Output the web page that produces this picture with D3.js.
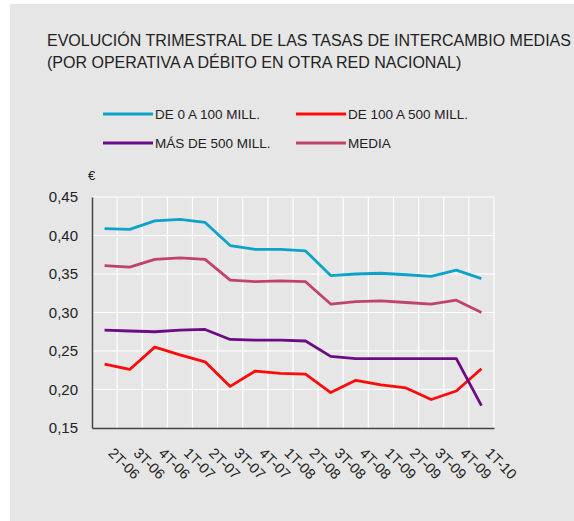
<!DOCTYPE html>
<html>
<head>
<meta charset="utf-8">
<script src="https://cdn.jsdelivr.net/npm/d3@7"></script>
<style>
  body { margin: 0; background: #fff; }
  text { font-family: "Liberation Sans", Arial, sans-serif; fill: #222; }
</style>
</head>
<body>
<div id="chart"></div>
<script>
// quarters on the x axis
var quarters = ["2T-06", "3T-06", "4T-06", "1T-07", "2T-07", "3T-07", "4T-07", "1T-08",
    "2T-08", "3T-08", "4T-08", "1T-09", "2T-09", "3T-09", "4T-09", "1T-10"];

// series values (euros)
var de0a100 = [0.409, 0.408, 0.419, 0.421, 0.417, 0.387, 0.382, 0.382,
    0.380, 0.348, 0.350, 0.351, 0.349, 0.347, 0.355, 0.344];
var de100a500 = [0.233, 0.226, 0.255, 0.245, 0.236, 0.204, 0.224, 0.221,
    0.220, 0.196, 0.212, 0.206, 0.202, 0.187, 0.198, 0.227];
var mas500 = [0.277, 0.276, 0.275, 0.277, 0.278, 0.265, 0.264, 0.264,
    0.263, 0.243, 0.240, 0.240, 0.240, 0.240, 0.240, 0.179];
var media = [0.361, 0.359, 0.369, 0.371, 0.369, 0.342, 0.340, 0.341,
    0.340, 0.311, 0.314, 0.315, 0.313, 0.311, 0.316, 0.300];

var yTicks = [0.15, 0.20, 0.25, 0.30, 0.35, 0.40, 0.45];

var series = [
    { name: "DE 0 A 100 MILL.", values: de0a100, color: "#0ba3c9" },
    { name: "DE 100 A 500 MILL.", values: de100a500, color: "#ff0a0a" },
    { name: "MÁS DE 500 MILL.", values: mas500, color: "#6c0b86" },
    { name: "MEDIA", values: media, color: "#c0436b" }
];

var width = 574, height = 521;
var plot = { left: 92, right: 494, top: 197, bottom: 428 };

var svg = d3.select("#chart")
    .append("svg")
    .attr("width", width)
    .attr("height", height);

// gray panel
svg.append("rect")
    .attr("x", 10).attr("y", 4)
    .attr("width", width - 10).attr("height", height - 4)
    .attr("fill", "#e6e6e6");

// title
var title = svg.append("text")
    .attr("x", 47)
    .attr("y", 46)
    .style("font-size", "16px");
title.append("tspan").attr("x", 47).text("EVOLUCIÓN TRIMESTRAL DE LAS TASAS DE INTERCAMBIO MEDIAS");
title.append("tspan").attr("x", 47).attr("dy", 22).text("(POR OPERATIVA A DÉBITO EN OTRA RED NACIONAL)");

// legend
var legend = svg.append("g");
series.forEach(function (s, i) {
    var lx = i % 2 === 0 ? 103 : 296;
    var ly = i < 2 ? 114 : 143;
    legend.append("line")
        .attr("x1", lx).attr("x2", lx + 50)
        .attr("y1", ly).attr("y2", ly)
        .attr("stroke", s.color)
        .attr("stroke-width", 3);
    legend.append("text")
        .attr("x", lx + 52)
        .attr("y", ly)
        .attr("dy", "0.35em")
        .style("font-size", "13.5px")
        .text(s.name);
});

// scales
var x = d3.scaleBand()
    .domain(quarters)
    .range([plot.left, plot.right]);

var y = d3.scaleLinear()
    .domain([0.15, 0.45])
    .range([plot.bottom, plot.top]);

// grid
var grid = svg.append("g");
grid.selectAll(".hg")
    .data(yTicks.slice(1))
    .enter()
    .append("line")
    .attr("x1", plot.left).attr("x2", plot.right)
    .attr("y1", function (d) { return y(d); })
    .attr("y2", function (d) { return y(d); })
    .attr("stroke", "#fff")
    .attr("stroke-width", 1.2);
grid.selectAll(".vg")
    .data(quarters)
    .enter()
    .append("line")
    .attr("x1", function (d) { return x(d) + x.bandwidth(); })
    .attr("x2", function (d) { return x(d) + x.bandwidth(); })
    .attr("y1", plot.top).attr("y2", plot.bottom)
    .attr("stroke", "#fff")
    .attr("stroke-width", 1.2);

// y axis
var yAxis = svg.append("g")
    .attr("transform", "translate(" + plot.left + ",0)")
    .call(d3.axisLeft(y)
        .tickValues(yTicks)
        .tickSize(0)
        .tickPadding(14)
        .tickFormat(function (d) { return d3.format(".2f")(d).replace(".", ","); }));
yAxis.select(".domain").attr("stroke", "#444").attr("stroke-width", 1.5);
yAxis.selectAll("text")
    .style("font-size", "15px")
    .style("font-family", "Liberation Sans, Arial, sans-serif")
    .attr("fill", "#222");

// x axis
var xAxis = svg.append("g")
    .attr("transform", "translate(0," + plot.bottom + ")")
    .call(d3.axisBottom(x).tickSize(0).tickPadding(0));
xAxis.select(".domain").attr("stroke", "#444").attr("stroke-width", 1.5);
xAxis.selectAll("text")
    .style("font-size", "14.5px")
    .style("font-family", "Liberation Sans, Arial, sans-serif")
    .attr("fill", "#222")
    .attr("text-anchor", "start")
    .attr("y", 0)
    .attr("dy", 0)
    .attr("transform", "translate(3,26) rotate(45)");

// euro unit
svg.append("text")
    .attr("x", 88)
    .attr("y", 180)
    .style("font-size", "13px")
    .text("€");

// lines
var line = d3.line()
    .x(function (d, i) { return x(quarters[i]) + x.bandwidth() / 2; })
    .y(function (d) { return y(d); });

svg.selectAll(".series")
    .data(series)
    .enter()
    .append("path")
    .attr("d", function (s) { return line(s.values); })
    .attr("fill", "none")
    .attr("stroke", function (s) { return s.color; })
    .attr("stroke-width", 2.8)
    .attr("stroke-linejoin", "round");
</script>
</body>
</html>
